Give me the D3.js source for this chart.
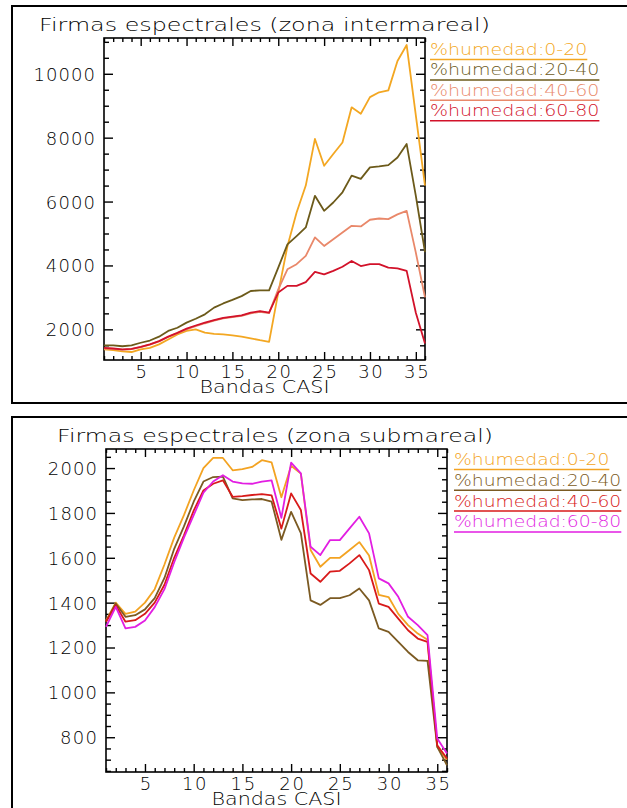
<!DOCTYPE html>
<html>
<head>
<meta charset="utf-8">
<script src="https://cdn.jsdelivr.net/npm/d3@7"></script>
<style>
body { margin: 0; background: #fff; }
svg text { font-family: "DejaVu Sans", sans-serif; font-weight: 200; }
</style>
</head>
<body>
<svg id="chart" width="627" height="808"></svg>
<script>
'use strict';

const bands = [1,2,3,4,5,6,7,8,9,10,11,12,13,14,15,16,17,18,19,20,21,22,23,24,25,26,27,28,29,30,31,32,33,34,35,36];
const xTicks = [5,10,15,20,25,30,35];
const labels = ["%humedad:0-20", "%humedad:20-40", "%humedad:40-60", "%humedad:60-80"];

// zona intermareal
const inter_0_20  = [1370,1350,1310,1290,1370,1420,1530,1680,1840,1950,2000,1900,1860,1840,1810,1770,1720,1660,1610,3150,4600,5660,6500,7960,7120,7490,7850,8950,8750,9270,9420,9480,10400,10900,8700,6500];
const inter_20_40 = [1500,1500,1470,1500,1580,1650,1770,1950,2050,2210,2330,2470,2680,2810,2920,3040,3200,3220,3220,3930,4660,4920,5190,6180,5710,5970,6290,6810,6710,7070,7100,7140,7380,7800,6180,4420];
const inter_40_60 = [1400,1390,1360,1380,1440,1520,1620,1760,1880,2000,2100,2190,2270,2340,2380,2420,2500,2550,2510,3250,3880,4040,4300,4880,4610,4820,5030,5240,5220,5430,5470,5450,5600,5710,4400,3000];
const inter_60_80 = [1420,1400,1370,1390,1450,1530,1630,1770,1890,2020,2120,2210,2290,2360,2400,2440,2520,2570,2520,3150,3360,3360,3480,3800,3720,3830,3960,4140,3980,4040,4040,3930,3910,3830,2520,1560];
const interTicks = [2000,4000,6000,8000,10000];
const interColors = ["#f3a722", "#6c5a1a", "#e9886a", "#d2122a"];

// zona submareal
const sub_0_20  = [1320,1400,1350,1360,1400,1460,1570,1690,1790,1900,2000,2045,2045,1990,1995,2005,2035,2025,1870,2010,1975,1635,1560,1600,1600,1635,1670,1610,1435,1425,1350,1300,1262,1235,757,700];
const sub_20_40 = [1315,1396,1337,1344,1370,1420,1510,1640,1740,1850,1940,1960,1962,1865,1857,1860,1862,1850,1680,1805,1710,1410,1390,1420,1420,1433,1463,1410,1285,1270,1225,1180,1143,1140,757,675];
const sub_40_60 = [1315,1389,1315,1322,1350,1400,1480,1600,1700,1810,1900,1930,1945,1872,1875,1880,1884,1878,1730,1887,1813,1530,1493,1538,1542,1575,1612,1545,1396,1381,1329,1277,1240,1225,764,705];
const sub_60_80 = [1292,1381,1285,1292,1320,1380,1460,1580,1690,1790,1890,1940,1968,1940,1932,1930,1940,1945,1778,2024,1976,1649,1612,1679,1679,1731,1783,1709,1508,1486,1426,1337,1300,1255,794,727];
const subTicks = [800,1000,1200,1400,1600,1800,2000];
const subColors = ["#f3a322", "#7b5a22", "#d81a1a", "#e21ee2"];

const svg = d3.select("#chart");

function draw_panel(p)
{
	const g = svg.append("g");

	// outer frame (runs off the right / bottom of the picture)
	g.append("rect")
		.attr("x", p.box[0]).attr("y", p.box[1])
		.attr("width", p.box[2]).attr("height", p.box[3])
		.attr("fill", "none").attr("stroke", "#000").attr("stroke-width", 2);

	const x = d3.scaleLinear().domain([1, 36]).range([p.left, p.right]);
	const y = d3.scaleLinear().domain(p.yDomain).range([p.bottom, p.top]);

	const xMinor = bands.filter(b => b % 5 != 0);
	const yMinor = d3.range(p.minorStart, p.yDomain[1], p.minorStep).filter(v => !p.yTicks.includes(v));

	const style = a => a
		.call(s => s.select(".domain").remove())
		.call(s => s.selectAll("line").attr("stroke", "#000").attr("stroke-width", 1.4))
		.call(s => s.selectAll("text").attr("fill", "#000"));

	// bottom axis with labels
	g.append("g")
		.attr("transform", `translate(0,${p.bottom})`)
		.call(d3.axisBottom(x).tickValues(xTicks).tickSize(-8).tickPadding(0).tickSizeOuter(0))
		.call(style)
		.call(a => a.selectAll("text")
			.attr("y", 18).attr("dy", 0)
			.attr("font-size", 18)
			.attr("textLength", d => String(d).length * 12.3));
	g.append("g")
		.attr("transform", `translate(0,${p.bottom})`)
		.call(d3.axisBottom(x).tickValues(xMinor).tickSize(-4).tickFormat("").tickSizeOuter(0))
		.call(style);

	// top mirror
	g.append("g")
		.attr("transform", `translate(0,${p.top})`)
		.call(d3.axisTop(x).tickValues(xTicks).tickSize(-8).tickFormat("").tickSizeOuter(0))
		.call(style);
	g.append("g")
		.attr("transform", `translate(0,${p.top})`)
		.call(d3.axisTop(x).tickValues(xMinor).tickSize(-4).tickFormat("").tickSizeOuter(0))
		.call(style);

	// left axis with labels
	g.append("g")
		.attr("transform", `translate(${p.left},0)`)
		.call(d3.axisLeft(y).tickValues(p.yTicks).tickSize(-9).tickPadding(9).tickFormat(d3.format("d")).tickSizeOuter(0))
		.call(style)
		.call(a => a.selectAll("text")
			.attr("font-size", 18)
			.attr("dy", "0.36em")
			.attr("textLength", d => String(d).length * 12.3));
	g.append("g")
		.attr("transform", `translate(${p.left},0)`)
		.call(d3.axisLeft(y).tickValues(yMinor).tickSize(-5).tickFormat("").tickSizeOuter(0))
		.call(style);

	// right mirror
	g.append("g")
		.attr("transform", `translate(${p.right},0)`)
		.call(d3.axisRight(y).tickValues(p.yTicks).tickSize(-9).tickFormat("").tickSizeOuter(0))
		.call(style);
	g.append("g")
		.attr("transform", `translate(${p.right},0)`)
		.call(d3.axisRight(y).tickValues(yMinor).tickSize(-5).tickFormat("").tickSizeOuter(0))
		.call(style);

	// plot frame
	g.append("rect")
		.attr("x", p.left).attr("y", p.top)
		.attr("width", p.right - p.left).attr("height", p.bottom - p.top)
		.attr("fill", "none").attr("stroke", "#000").attr("stroke-width", 1.6);

	const line = d3.line()
		.x((d, i) => x(bands[i]))
		.y(d => y(d));

	g.append("g")
		.selectAll("path")
		.data(p.series)
		.join("path")
			.attr("d", line)
			.attr("fill", "none")
			.attr("stroke", (d, i) => p.colors[i])
			.attr("stroke-width", 1.8)
			.attr("stroke-linejoin", "round");

	// title
	g.append("text")
		.attr("x", p.titleX).attr("y", p.titleY)
		.attr("font-size", 17)
		.attr("textLength", p.titleLen).attr("lengthAdjust", "spacingAndGlyphs")
		.text(p.title);

	// x axis title
	g.append("text")
		.attr("x", (p.left + p.right) / 2).attr("y", p.bottom + 33)
		.attr("text-anchor", "middle")
		.attr("font-size", 17)
		.attr("textLength", 130).attr("lengthAdjust", "spacingAndGlyphs")
		.text("Bandas CASI");

	// legend
	const leg = g.append("g")
		.selectAll("g")
		.data(labels)
		.join("g")
			.attr("transform", (d, i) => `translate(${p.legX},${p.legY + i * p.legStep})`);
	leg.append("text")
		.attr("font-size", 16)
		.attr("fill", (d, i) => p.colors[i])
		.attr("textLength", d => d.length * p.charW).attr("lengthAdjust", "spacingAndGlyphs")
		.text(d => d);
	leg.append("line")
		.attr("x1", 0).attr("x2", d => d.length * p.charW)
		.attr("y1", 4.5).attr("y2", 4.5)
		.attr("stroke", (d, i) => p.colors[i])
		.attr("stroke-width", 1.5);
}

draw_panel({
	box: [12, 6, 640, 397],
	left: 104, right: 425, top: 38, bottom: 360,
	yDomain: [1040, 11120], yTicks: interTicks, minorStart: 1500, minorStep: 500,
	series: [inter_0_20, inter_20_40, inter_40_60, inter_60_80],
	colors: interColors,
	title: "Firmas espectrales (zona intermareal)", titleX: 39, titleY: 30.5, titleLen: 451,
	legX: 430, legY: 55, legStep: 20.4, charW: 12.1
});

draw_panel({
	box: [12, 417, 640, 420],
	left: 106, right: 447, top: 449, bottom: 772,
	yDomain: [645, 2085], yTicks: subTicks, minorStart: 650, minorStep: 50,
	series: [sub_0_20, sub_20_40, sub_40_60, sub_60_80],
	colors: subColors,
	title: "Firmas espectrales (zona submareal)", titleX: 57, titleY: 441.5, titleLen: 436,
	legX: 454, legY: 465, legStep: 20.8, charW: 11.95
});
</script>
</body>
</html>
